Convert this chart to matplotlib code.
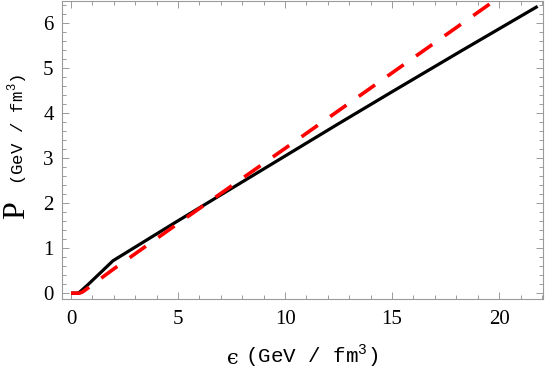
import matplotlib
matplotlib.use("Agg")
import matplotlib.pyplot as plt
from matplotlib.ticker import MultipleLocator

# pressure vs energy density (GeV/fm^3)
eps_black = [0.0, 0.35, 0.75, 1.96, 3.7, 5.0, 7.5, 10.0, 12.5, 15.0, 18.2, 21.8]
p_black = [0.0, 0.0, 0.17, 0.72, 1.23, 1.61, 2.33, 3.05, 3.77, 4.48, 5.38, 6.38]

eps_red = [0.0, 0.4, 0.55, 0.75, 1.0, 2.0, 5.0, 10.0, 15.0, 20.0]
p_red = [0.0, 0.0, 0.03, 0.1, 0.19, 0.54, 1.55, 3.22, 4.9, 6.58]

xlim = (-0.42, 22.05)
ylim = (-0.13, 6.51)

# superscript in the unit labels in the same monospace face
plt.rcParams["mathtext.fontset"] = "custom"
plt.rcParams["mathtext.rm"] = "Liberation Mono"

W, H = 545, 378
fig = plt.figure(figsize=(W / 100, H / 100), dpi=100)
ax = fig.add_axes([62 / W, 1 - 299 / H, (543 - 62) / W, 298.5 / H])

ax.plot(eps_black, p_black, color="black", lw=2.3, solid_capstyle="butt", zorder=2)
ax.plot(eps_red, p_red, color="#ff0000", lw=2.6, dashes=(5.5, 4.2), zorder=3)

ax.set_xlim(*xlim)
ax.set_ylim(*ylim)

ax.xaxis.set_major_locator(MultipleLocator(5))
ax.xaxis.set_minor_locator(MultipleLocator(1))
ax.yaxis.set_major_locator(MultipleLocator(1))
ax.yaxis.set_minor_locator(MultipleLocator(0.2))

frame = "#9a9a9a"
for s in ax.spines.values():
    s.set_color(frame)
    s.set_linewidth(0.8)
ax.tick_params(which="both", direction="in", top=True, right=True, color=frame, width=0.7)
ax.tick_params(which="major", length=5)
ax.tick_params(which="minor", length=3)
ax.tick_params(axis="both", labelsize=15, labelcolor="black")
ax.tick_params(axis="x", pad=8)
ax.tick_params(axis="y", pad=6)
for lab in ax.get_xticklabels() + ax.get_yticklabels():
    lab.set_family("Liberation Serif")

# axis labels built from pieces (serif symbol + monospace unit)
def px(x, y):
    return x / W, 1 - y / H

fig.text(*px(233, 358), "ϵ", family=["DejaVu Serif"], fontsize=15,
         ha="center", va="center")
fig.text(*px(312, 356), r"(GeV / fm$^{\mathrm{3}}$)", family="Liberation Mono",
         fontsize=15, ha="center", va="center")

fig.text(*px(17, 210), "P", family="Liberation Serif", fontsize=23,
         rotation=90, ha="center", va="center")
fig.text(*px(18, 129), r"(GeV / fm$^{\mathrm{3}}$)", family="Liberation Mono",
         fontsize=12.5, rotation=90, ha="center", va="center")

fig.savefig("out.png", dpi=100)
